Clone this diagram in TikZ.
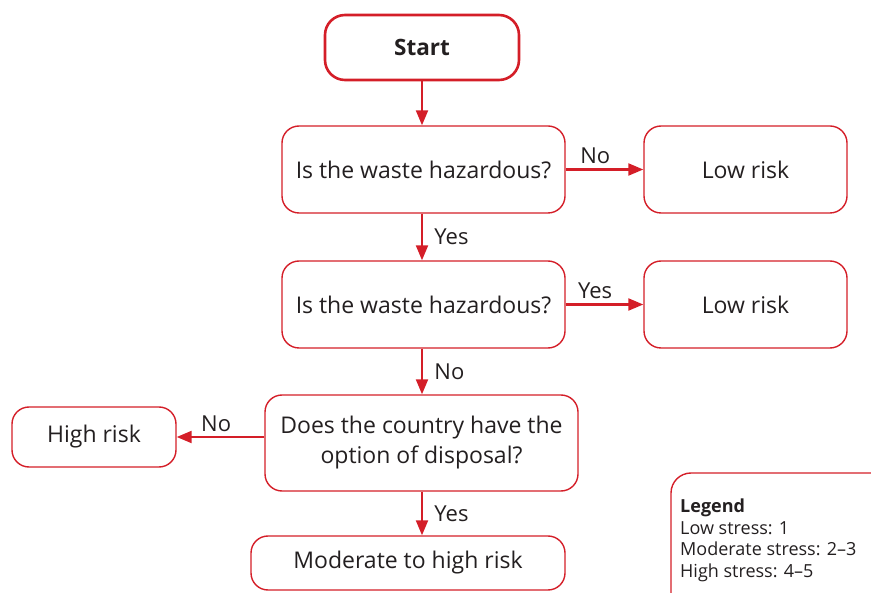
\documentclass[tikz,border=0pt]{standalone}
\usepackage{fontspec}
\setmainfont{Open Sans}
\usetikzlibrary{arrows.meta}
\definecolor{riskred}{RGB}{212,30,40}
\definecolor{inkgrey}{RGB}{35,31,32}
\tikzset{
	box/.style={draw=riskred, line width=1.4pt, rounded corners=17pt, align=center,
		text=inkgrey, font=\fontsize{23}{30}\selectfont, inner sep=0pt},
	startbox/.style={box, line width=2.6pt, rounded corners=20pt, font=\bfseries\fontsize{22.5}{28}\selectfont},
	flow/.style={draw=riskred, line width=2.2pt, -{Triangle[length=15pt,width=12pt]}},
	answer/.style={text=inkgrey, font=\fontsize{22}{26}\selectfont}
}

\begin{document}
\begin{tikzpicture}[x=1pt, y=-1pt]
		%%%%% START %%%%%
		\useasboundingbox (0, 0) rectangle (871, 593);
		\clip (0, 0) rectangle (871, 593);
		
		\node[startbox, minimum width=194pt, minimum height=65pt] (start) at (422, 47.5) {Start};
		\node[box, minimum width=283pt, minimum height=87pt] (haz1) at (423.5, 169.5) {Is the waste hazardous?};
		\node[box, minimum width=203pt, minimum height=87pt] (low1) at (745.5, 169.5) {Low risk};
		\node[box, minimum width=283pt, minimum height=87pt] (haz2) at (423.5, 304.5) {Is the waste hazardous?};
		\node[box, minimum width=203pt, minimum height=87pt] (low2) at (745.5, 304.5) {Low risk};
		\node[box, minimum width=313pt, minimum height=96pt] (disp) at (421.5, 443) {Does the country have the\\option of disposal?};
		\node[box, minimum width=164pt, minimum height=60pt] (high) at (94, 437) {High risk};
		\node[box, minimum width=314pt, minimum height=54pt] (moder) at (408, 563) {Moderate to high risk};
		
		% legend, cut off by the page edge
		\draw[draw=riskred, line width=1.4pt, rounded corners=20pt] (671, 473) rectangle (920, 640);
		\node[anchor=north west, align=left, inner sep=0pt, text=inkgrey, font=\fontsize{18}{21.5}\selectfont]
			(legend) at (680, 499) {\textbf{Legend}\\Low stress: 1\\Moderate stress: 2--3\\High stress: 4--5};
		
		\draw[flow] (start.south -| 422, 0) -- (haz1.north -| 422, 0);
		\draw[flow] (haz1.south -| 422, 0) -- (haz2.north -| 422, 0) node[answer, midway, right=8pt] {Yes};
		\draw[flow] (haz2.south -| 422, 0) -- (disp.north -| 422, 0) node[answer, midway, right=8pt] {No};
		\draw[flow] (disp.south -| 422, 0) -- (moder.north -| 422, 0) node[answer, midway, right=8pt] {Yes};
		\draw[flow] (haz1.east) -- (low1.west) node[answer, pos=0.38, above=1pt] {No};
		\draw[flow] (haz2.east) -- (low2.west) node[answer, pos=0.38, above=1pt] {Yes};
		\draw[flow] (disp.west |- 0, 437) -- (high.east) node[answer, pos=0.55, above=1pt] {No};
		%%%%% END %%%%%
	\end{tikzpicture}
\end{document}
